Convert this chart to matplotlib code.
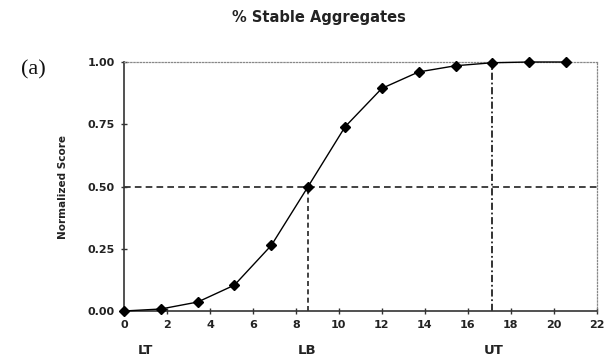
import numpy as np
import matplotlib.pyplot as plt

# normalized score curve for % stable aggregates
x = [0, 1.71, 3.43, 5.14, 6.86, 8.57, 10.29, 12.0, 13.71, 15.43, 17.14, 18.86, 20.57]
y = [0, 0.008, 0.036, 0.104, 0.264, 0.50, 0.74, 0.894, 0.96, 0.985, 0.997, 1.0, 1.0]

# threshold / baseline positions
LT = 0
LB = 8.57
UT = 17.14
marks = [("LT", 1.0), ("LB", 8.5), ("UT", 17.2)]

xticks = list(range(0, 23, 2))
yticks = [0.0, 0.25, 0.5, 0.75, 1.0]

plt.rcParams['font.family'] = ['DejaVu Sans']

fig = plt.figure(figsize=(6.07, 3.58), dpi=100)
ax = fig.add_axes([0.2043, 0.1313, 0.7787, 0.6955])

# reference lines
ax.plot([0, 22], [0.5, 0.5], color='#222222', lw=1.2, ls=(0, (4, 2.5)), zorder=1)
ax.plot([LB, LB], [0, 0.5], color='#222222', lw=1.2, ls=(0, (3, 2)), zorder=1)
ax.plot([UT, UT], [0, 1.0], color='#222222', lw=1.3, ls=(0, (4, 1.5, 1, 1.5)), zorder=1)

ax.plot(x, y, color='black', lw=1.0, marker='D', ms=5, mfc='black', mec='black', zorder=3, clip_on=False)

ax.set_xlim(0, 22)
ax.set_ylim(0, 1.0)
ax.set_xticks(xticks)
ax.set_yticks(yticks)
ax.set_yticklabels(["%.2f" % v for v in yticks])

for s in ['top', 'right']:
    ax.spines[s].set_linestyle((0, (1, 1.5)))
    ax.spines[s].set_color('#888888')
    ax.spines[s].set_linewidth(0.9)
for s in ['left', 'bottom']:
    ax.spines[s].set_color('#333333')
    ax.spines[s].set_linewidth(1.2)

ax.tick_params(direction='inout', length=5, width=1, color='#333333', labelsize=8, pad=4)
for lab in ax.get_xticklabels() + ax.get_yticklabels():
    lab.set_fontweight('bold')
    lab.set_color('#222222')

ax.set_ylabel("Normalized Score", fontsize=7.5, fontweight='bold', labelpad=14, color='#222222')

for name, pos in marks:
    ax.text(pos, -0.16, name, ha='center', va='center', fontsize=9.5, fontweight='bold',
            color='#222222', clip_on=False)

fig.text(0.525, 0.952, "% Stable Aggregates", ha='center', va='center', fontsize=10.5,
         fontweight='bold', color='#222222')
fig.text(0.055, 0.805, "(a)", ha='center', va='center', fontsize=16,
         family='Liberation Serif', color='#111111')

fig.savefig("out.png", dpi=100)
